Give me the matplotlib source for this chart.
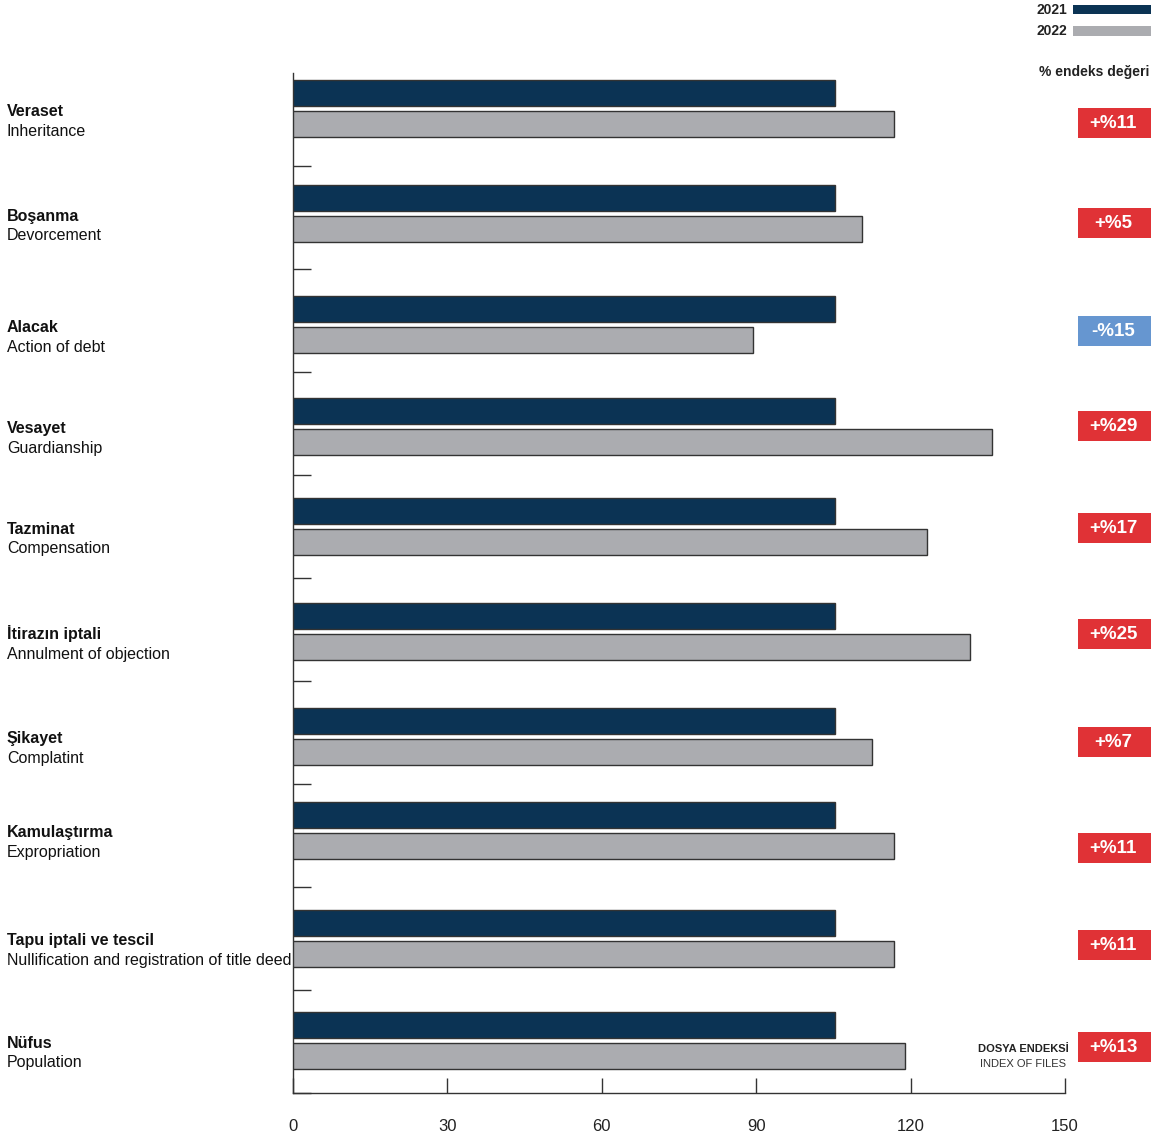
import matplotlib
matplotlib.use("Agg")
import matplotlib.pyplot as plt
import matplotlib.transforms as mtransforms
from matplotlib.patches import Rectangle

plt.rcParams['font.family'] = ['Liberation Sans', 'DejaVu Sans']

cats_tr = ["Veraset", "Boşanma", "Alacak", "Vesayet", "Tazminat", "İtirazın iptali",
           "Şikayet", "Kamulaştırma", "Tapu iptali ve tescil", "Nüfus"]
cats_en = ["Inheritance", "Devorcement", "Action of debt", "Guardianship", "Compensation",
           "Annulment of objection", "Complatint", "Expropriation",
           "Nullification and registration of title deed", "Population"]
vals_2021 = [105.3] * 10
vals_2022 = [116.8, 110.5, 89.4, 135.8, 123.2, 131.5, 112.5, 116.8, 116.8, 118.9]
changes = ["+%11", "+%5", "-%15", "+%29", "+%17", "+%25", "+%7", "+%11", "+%11", "+%13"]
xticks = [0, 30, 60, 90, 120, 150]

# layout: vertical slot positions of each category group (pixel-like units, top-down)
group_pos = [93, 198, 309, 411, 511, 616, 721, 815, 923, 1025]
badge_pos = [123, 223, 331, 426, 528, 634, 742, 848, 945, 1047]
sep_pos = [166 + 103 * k for k in range(10)]

NAVY = "#0b3354"
GRAY = "#abacb0"
RED = "#e03236"
BLUE = "#6696d0"
DARK = "#333333"

W, H = 1155, 1139
fig = plt.figure(figsize=(W / 100, H / 100), dpi=100)
ax = fig.add_axes([293 / W, 46 / H, (1065 - 293) / W, (1093 - 73) / H])

n = len(cats_tr)
bh = 26
ax.barh(group_pos, vals_2021, height=bh, color=NAVY, edgecolor=DARK, linewidth=1.0, zorder=3)
ax.barh([p + 31 for p in group_pos], vals_2022, height=bh, color=GRAY, edgecolor=DARK,
        linewidth=1.0, zorder=3)

ax.set_xlim(0, 150)
ax.set_ylim(1093, 73)

for s in ["top", "right"]:
    ax.spines[s].set_visible(False)
for s in ["left", "bottom"]:
    ax.spines[s].set_color(DARK)
    ax.spines[s].set_linewidth(1.0)

ax.set_xticks(xticks)
ax.set_xticklabels([str(t) for t in xticks], fontsize=12, color="#222222")
ax.tick_params(axis="x", direction="in", length=11, width=1.0, color=DARK, pad=19)

ax.set_yticks([])
ax.set_yticks(sep_pos, minor=True)
ax.tick_params(axis="y", which="minor", direction="in", length=13, width=1.0, color=DARK)
ax.tick_params(axis="y", which="major", length=0)

blend_fig_data = mtransforms.blended_transform_factory(fig.transFigure, ax.transData)

for i in range(n):
    p = group_pos[i]
    ax.text(7 / W, p + 18, cats_tr[i], transform=blend_fig_data, fontsize=11.5,
            fontweight="bold", color="#111111", va="center", ha="left")
    ax.text(7 / W, p + 38, cats_en[i], transform=blend_fig_data, fontsize=11.5,
            color="#111111", va="center", ha="left")
    col = BLUE if changes[i].startswith("-") else RED
    yc = badge_pos[i]
    rect = Rectangle((1078 / W, yc - 15), 73 / W, 30, transform=blend_fig_data,
                     facecolor=col, edgecolor="none", clip_on=False)
    ax.add_patch(rect)
    ax.text(1113 / W, yc + 0.5, changes[i], transform=blend_fig_data, fontsize=13.5,
            fontweight="bold", color="white", va="center", ha="center")

# legend
fig.text(1067 / W, 1 - 10 / H, "2021", fontsize=10, fontweight="bold", color="#222222", ha="right", va="center")
fig.text(1067 / W, 1 - 31 / H, "2022", fontsize=10, fontweight="bold", color="#222222", ha="right", va="center")
fig.patches.append(Rectangle((1073 / W, 1 - 14 / H), 78 / W, 9 / H, transform=fig.transFigure,
                             facecolor=NAVY, edgecolor="none"))
fig.patches.append(Rectangle((1073 / W, 1 - 36 / H), 78 / W, 10 / H, transform=fig.transFigure,
                             facecolor=GRAY, edgecolor="none"))
fig.text(1149 / W, 1 - 72 / H, "% endeks değeri", fontsize=10, fontweight="bold", color="#222222",
         ha="right", va="center")
fig.text(1069 / W, 1 - 1049 / H, "DOSYA ENDEKSİ", fontsize=8, fontweight="bold", color="#222222",
         ha="right", va="center")
fig.text(1066 / W, 1 - 1064 / H, "INDEX OF FILES", fontsize=8, color="#333333",
         ha="right", va="center")

fig.savefig("out.png", dpi=100, facecolor="white")
